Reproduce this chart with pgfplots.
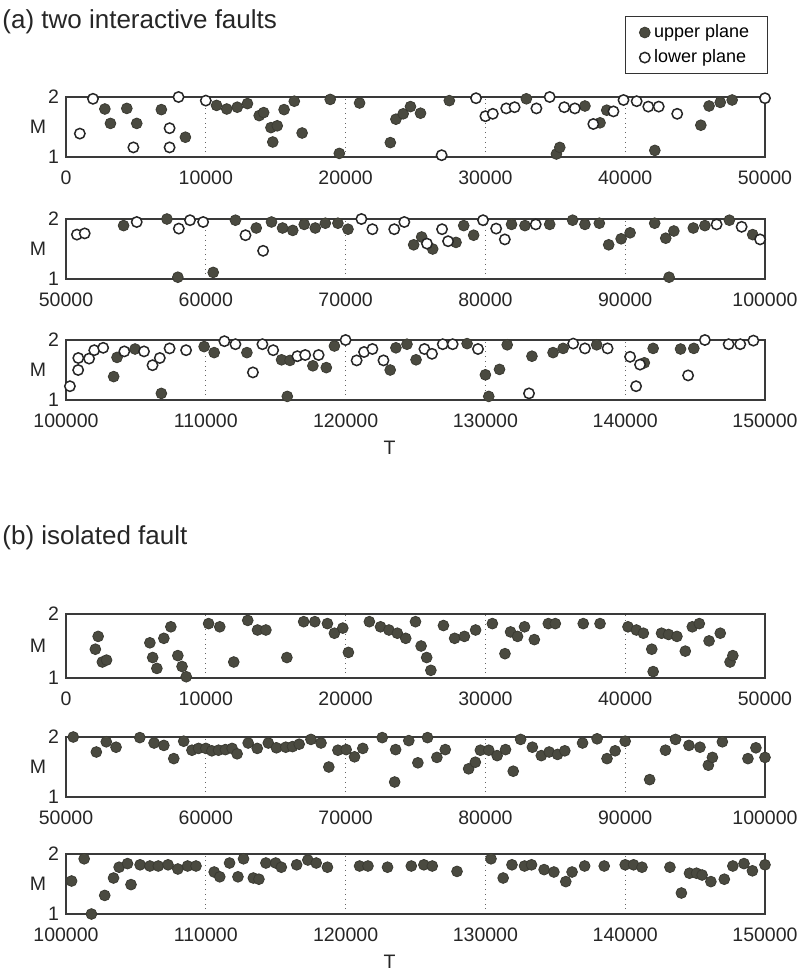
\documentclass[border=0pt]{standalone}
\usepackage{fontspec}
\setmainfont{Liberation Sans}
\usepackage{pgfplots}
\pgfplotsset{compat=1.18}
\definecolor{fillc}{HTML}{4A4A40}
\definecolor{framec}{HTML}{3A3A3A}
\pgfplotsset{
  panel/.style={
    scale only axis, width=349.5pt, height=30pt,
    anchor=north west,
    ymin=1, ymax=2, ytick={1,2},
    axis line style={framec, line width=0.8pt},
    xmajorgrids, grid style={dotted, black!60, line width=0.5pt},
    major tick length=0pt,
    scaled x ticks=false,
    tick label style={font=\fontsize{9.75}{11}\selectfont, text=black!85},
    /pgf/number format/assume math mode=true,
    /pgf/number format/set thousands separator={},
    /pgf/number format/fixed,
    clip=false,
    xticklabel style={yshift=-3.5pt},
  },
  up/.style={only marks, mark=*, mark size=2.7pt, mark options={fill=fillc, draw=fillc!80!black, line width=0.4pt}},
  lo/.style={only marks, mark=*, mark size=2.6pt, mark options={fill=white, draw=black!85, line width=0.75pt}},
}
\newcommand{\Mlab}{\node[font=\fontsize{9.75}{11}\selectfont, text=black!85] at (axis description cs:-0.04,0.5) {M};}
\begin{document}
\begin{tikzpicture}
\useasboundingbox (0,0) rectangle (399.5pt,-485pt);
\node[anchor=west, inner sep=0pt, font=\fontsize{13}{15}\selectfont, text=black!85] at (1pt,-11pt) {(a) two interactive faults};
\node[anchor=west, inner sep=0pt, font=\fontsize{13}{15}\selectfont, text=black!85] at (1pt,-269pt) {(b) isolated fault};
% ---------- (a) panel 1
\begin{axis}[panel, at={(33pt,-48.5pt)}, xmin=0, xmax=50000, xtick={0,10000,...,50000},
  legend style={at={(axis description cs:1.004,2.35)}, anchor=north east, draw=black!80, line width=0.5pt,
    font=\fontsize{9}{10.5}\selectfont, row sep=0.5pt, inner xsep=7pt, inner ysep=2pt,
    /tikz/every even column/.append style={column sep=2pt}},
  legend cell align=left]
\addplot[up] coordinates {(2780,1.80) (3180,1.56) (4350,1.81) (5060,1.56) (6820,1.79) (8540,1.33) (10770,1.86) (11500,1.80) (12250,1.83) (12980,1.89) (13820,1.69) (14140,1.74) (14660,1.49) (15110,1.52) (14790,1.25) (15600,1.79) (16330,1.93) (16890,1.40) (18900,1.96) (19550,1.06) (21000,1.90) (23200,1.24) (23600,1.63) (24120,1.72) (24640,1.84) (25360,1.73) (27420,1.94) (32930,1.97) (35080,1.05) (35320,1.16) (37120,1.85) (38200,1.57) (38680,1.78) (42120,1.11) (45410,1.53) (46000,1.85) (46800,1.91) (47650,1.95)};
\addlegendentry{upper plane}
\addplot[lo] coordinates {(990,1.39) (1930,1.97) (4820,1.16) (7410,1.48) (7410,1.16) (8050,2.0) (10000,1.94) (26870,1.03) (29330,1.98) (30000,1.68) (30530,1.72) (31490,1.81) (32090,1.83) (33650,1.81) (34600,2.0) (35640,1.83) (36400,1.81) (37720,1.55) (39160,1.76) (39880,1.95) (40820,1.93) (41650,1.84) (42400,1.84) (43720,1.72) (50000,1.98)};
\addlegendentry{lower plane}
\Mlab
\end{axis}
% ---------- (a) panel 2
\begin{axis}[panel, at={(33pt,-109.5pt)}, xmin=50000, xmax=100000, xtick={50000,60000,...,100000}]
\addplot[up] coordinates {(54120,1.89) (57220,2.0) (58000,1.03) (60530,1.11) (62120,1.98) (63610,1.85) (64700,1.95) (65490,1.85) (66220,1.81) (67040,1.91) (67830,1.85) (68550,1.93) (69450,1.93) (70170,1.83) (74870,1.57) (75440,1.70) (76230,1.50) (77900,1.61) (78450,1.89) (79160,1.73) (81870,1.91) (82830,1.89) (84600,1.91) (86240,1.98) (87120,1.91) (88150,1.93) (88820,1.57) (89710,1.67) (90350,1.77) (92110,1.93) (92900,1.68) (93480,1.80) (93140,1.03) (94870,1.85) (95700,1.89) (97450,1.98) (99120,1.74)};
\addplot[lo] coordinates {(50780,1.74) (51340,1.76) (55060,1.95) (58070,1.84) (58870,1.98) (59810,1.95) (62840,1.73) (64100,1.47) (71130,2.0) (71920,1.83) (73480,1.83) (74200,1.95) (75820,1.59) (76900,1.83) (77330,1.63) (79830,1.98) (80770,1.84) (81390,1.66) (83600,1.91) (96540,1.91) (98330,1.87) (99650,1.66)};
\Mlab
\end{axis}
% ---------- (a) panel 3
\begin{axis}[panel, at={(33pt,-170pt)}, xmin=100000, xmax=150000, xtick={100000,110000,...,150000}]
\addplot[up] coordinates {(103410,1.39) (103650,1.71) (104940,1.85) (106820,1.11) (109880,1.89) (110600,1.79) (112940,1.79) (115420,1.67) (116020,1.66) (115830,1.06) (117660,1.57) (118620,1.54) (119200,1.90) (123190,1.50) (123600,1.87) (124390,1.93) (125040,1.67) (128690,1.94) (130000,1.42) (130240,1.06) (131010,1.51) (131560,1.92) (133330,1.73) (134840,1.79) (135560,1.86) (137960,1.92) (141370,1.62) (142000,1.86) (143960,1.85) (144910,1.86)};
\addplot[lo] coordinates {(100280,1.23) (100870,1.50) (100880,1.70) (101650,1.69) (102020,1.83) (102660,1.87) (104170,1.81) (105580,1.81) (106190,1.58) (106710,1.70) (107410,1.86) (108590,1.83) (111330,1.98) (112120,1.93) (113370,1.46) (114050,1.93) (114820,1.83) (116550,1.73) (117110,1.75) (118070,1.75) (120000,2.0) (120790,1.66) (121320,1.80) (121920,1.85) (122710,1.66) (125640,1.85) (126180,1.77) (126950,1.93) (127660,1.93) (129470,1.85) (133120,1.11) (136280,1.94) (137120,1.86) (138740,1.86) (140350,1.72) (140780,1.23) (141060,1.59) (144500,1.41) (145700,2.0) (147400,1.93) (148230,1.93) (149170,1.99)};
\Mlab
\node[font=\fontsize{9.75}{11}\selectfont, text=black!85] at (axis description cs:0.463,-0.8) {T};
\end{axis}
% ---------- (b) panel 1
\begin{axis}[panel, at={(33pt,-307pt)}, height=32pt, xmin=0, xmax=50000, xtick={0,10000,...,50000}]
\addplot[up] coordinates {(2300,1.65) (2100,1.45) (2600,1.25) (2900,1.28) (6000,1.55) (6200,1.32) (6500,1.15) (7000,1.62) (7500,1.80) (8000,1.35) (8300,1.18) (8600,1.02) (10200,1.85) (11000,1.80) (12000,1.25) (13000,1.90) (13700,1.75) (14300,1.75) (15800,1.32) (17000,1.88) (17800,1.88) (18700,1.85) (19200,1.70) (19800,1.78) (20200,1.40) (21700,1.88) (22500,1.80) (23100,1.75) (23700,1.70) (24300,1.62) (25000,1.88) (25400,1.50) (25800,1.32) (26100,1.12) (27000,1.82) (27800,1.62) (28500,1.65) (29300,1.75) (30500,1.85) (31400,1.38) (31800,1.72) (32300,1.65) (32800,1.80) (33500,1.60) (34500,1.85) (35000,1.85) (37000,1.85) (38200,1.85) (40200,1.80) (40800,1.75) (41300,1.70) (41900,1.45) (42000,1.10) (42600,1.70) (43100,1.68) (43700,1.65) (44300,1.42) (44800,1.80) (45300,1.85) (46000,1.58) (46800,1.70) (47500,1.25) (47700,1.35)};
\Mlab
\end{axis}
% ---------- (b) panel 2
\begin{axis}[panel, at={(33pt,-368.5pt)}, xmin=50000, xmax=100000, xtick={50000,60000,...,100000}]
\addplot[up] coordinates {(50520,2.0) (52170,1.75) (52880,1.92) (53580,1.83) (55280,1.99) (56300,1.90) (57000,1.86) (57710,1.64) (58420,1.93) (59010,1.78) (59480,1.81) (60000,1.81) (60430,1.77) (60910,1.78) (61400,1.79) (61880,1.81) (62240,1.72) (63030,1.90) (63680,1.81) (64470,1.90) (65050,1.82) (65720,1.83) (66200,1.84) (66680,1.88) (67520,1.96) (68240,1.90) (68800,1.50) (69450,1.78) (70040,1.79) (70640,1.67) (71230,1.81) (72620,1.99) (73580,1.79) (73510,1.25) (74520,1.94) (75170,1.57) (75860,1.99) (76530,1.66) (77130,1.79) (78800,1.47) (79280,1.58) (79640,1.78) (80240,1.78) (80840,1.69) (81440,1.79) (81990,1.43) (82520,1.96) (83360,1.83) (84000,1.69) (84560,1.75) (85160,1.71) (85680,1.77) (86950,1.90) (87990,1.97) (88700,1.64) (89280,1.77) (90000,1.93) (91750,1.29) (92880,1.78) (93600,1.96) (94560,1.86) (95350,1.83) (95950,1.53) (96240,1.66) (96950,1.92) (98780,1.64) (99350,1.82) (100000,1.66)};
\Mlab
\end{axis}
% ---------- (b) panel 3
\begin{axis}[panel, at={(33pt,-427pt)}, xmin=100000, xmax=150000, xtick={100000,110000,...,150000}]
\addplot[up] coordinates {(100400,1.55) (101300,1.92) (101820,1.0) (102770,1.31) (103400,1.60) (103800,1.78) (104400,1.84) (104650,1.49) (105300,1.82) (106000,1.80) (106600,1.80) (107300,1.82) (108000,1.75) (108700,1.80) (109300,1.80) (110600,1.70) (111000,1.62) (111700,1.85) (112300,1.62) (112700,1.92) (113400,1.60) (113800,1.58) (114300,1.85) (115000,1.85) (115400,1.78) (116500,1.82) (117300,1.90) (117900,1.85) (118700,1.78) (121000,1.80) (121600,1.80) (123000,1.78) (124700,1.80) (125600,1.82) (126200,1.80) (127970,1.71) (130400,1.92) (131270,1.60) (131900,1.82) (132800,1.80) (133300,1.82) (134200,1.74) (134900,1.70) (135750,1.54) (136200,1.70) (137100,1.80) (138500,1.80) (140000,1.82) (140600,1.82) (141200,1.78) (143200,1.78) (144020,1.35) (144600,1.68) (145100,1.68) (145500,1.65) (146130,1.54) (147090,1.58) (147700,1.80) (148500,1.84) (149100,1.72) (150000,1.82)};
\Mlab
\node[font=\fontsize{9.75}{11}\selectfont, text=black!85] at (axis description cs:0.463,-0.8) {T};
\end{axis}
\end{tikzpicture}
\end{document}
